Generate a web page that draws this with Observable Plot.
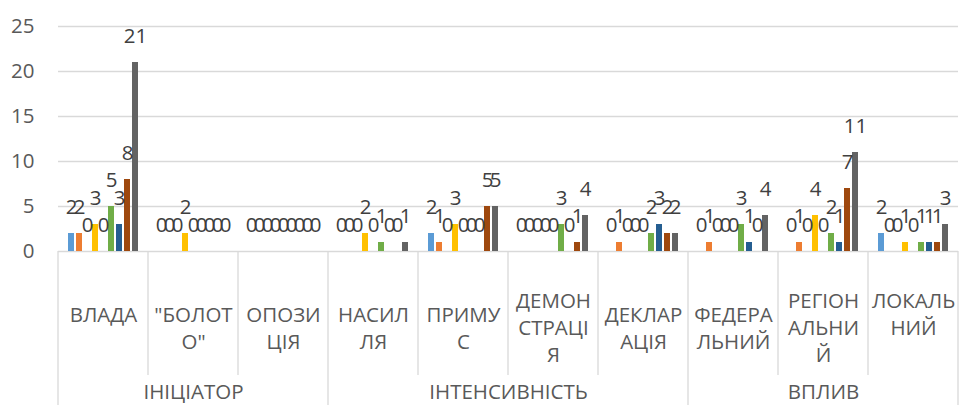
<!DOCTYPE html>
<html><head><meta charset="utf-8">
<script src="https://cdn.jsdelivr.net/npm/d3@7"></script>
<script src="https://cdn.jsdelivr.net/npm/@observablehq/plot@0.6"></script>
<style>body{margin:0;background:#fff;}</style>
</head><body><div id="chart"></div>
<script>
const categories = ["ВЛАДА", "\"БОЛОТО\"", "ОПОЗИЦІЯ", "НАСИЛЛЯ", "ПРИМУС", "ДЕМОНСТРАЦІЯ", "ДЕКЛАРАЦІЯ", "ФЕДЕРАЛЬНИЙ", "РЕГІОНАЛЬНИЙ", "ЛОКАЛЬНИЙ"];
const categoryLabels = ["ВЛАДА\n", "\"БОЛОТ\nО\"", "ОПОЗИ\nЦІЯ", "НАСИЛ\nЛЯ", "ПРИМУ\nС", "ДЕМОН\nСТРАЦІ\nЯ", "ДЕКЛАР\nАЦІЯ", "ФЕДЕРА\nЛЬНИЙ", "РЕГІОН\nАЛЬНИ\nЙ", "ЛОКАЛЬ\nНИЙ\n"];
const groups = ["ІНІЦІАТОР", "ІНТЕНСИВНІСТЬ", "ВПЛИВ"];
const groupSizes = [3, 4, 3];
const seriesNames = ["Ряд 1", "Ряд 2", "Ряд 3", "Ряд 4", "Ряд 5", "Ряд 6", "Ряд 7", "Ряд 8", "Ряд 9"];
const seriesColors = ["#5B9BD5", "#ED7D31", "#A5A5A5", "#FFC000", "#4472C4", "#70AD47", "#255E91", "#9E480E", "#636363"];
const series1 = [2, 0, 0, 0, 2, 0, 0, 0, 0, 2];
const series2 = [2, 0, 0, 0, 1, 0, 1, 1, 1, 0];
const series3 = [0, 0, 0, 0, 0, 0, 0, 0, 0, 0];
const series4 = [3, 2, 0, 2, 3, 0, 0, 0, 4, 1];
const series5 = [0, 0, 0, 0, 0, 0, 0, 0, 0, 0];
const series6 = [5, 0, 0, 1, 0, 3, 2, 3, 2, 1];
const series7 = [3, 0, 0, 0, 0, 0, 3, 1, 1, 1];
const series8 = [8, 0, 0, 0, 5, 1, 2, 0, 7, 1];
const series9 = [21, 0, 0, 1, 5, 4, 2, 4, 11, 3];
const yTicks = [0, 5, 10, 15, 20, 25];

const allSeries = [series1, series2, series3, series4, series5, series6, series7, series8, series9];
const data = [];
categories.forEach((c, ci) => allSeries.forEach((s, si) => data.push({category: c, series: seriesNames[si], value: s[ci]})));

const groupOdd = [], groupEven = [];
let start = 0;
groups.forEach((g, gi) => {
  const n = groupSizes[gi];
  if (n % 2) groupOdd.push({category: categories[start + (n - 1) / 2], text: g});
  else groupEven.push({category: categories[start + n / 2 - 1], text: g});
  start += n;
});

const W = 959, H = 405, mL = 58, mR = 1, mT = 26, mB = 154;
const font = "'Open Sans', sans-serif";
const grid = "#d9d9d9";
const fs = 20.5;

const plot = Plot.plot({
  width: W, height: H,
  marginTop: mT, marginBottom: mB, marginLeft: mL, marginRight: mR,
  style: {fontFamily: font, fontSize: fs + "px", color: "#595959", background: "#fff"},
  fx: {domain: categories, padding: 0, axis: null},
  x: {domain: seriesNames, paddingInner: 0.22, paddingOuter: 0.88, axis: null},
  y: {domain: [0, 25], ticks: yTicks, tickSize: 0, tickPadding: 24, label: null},
  color: {domain: seriesNames, range: seriesColors},
  marks: [
    Plot.ruleY(yTicks, {stroke: grid, strokeWidth: 1.3}),
    Plot.barY(data, {fx: "category", x: "series", y: "value", fill: "series"}),
    Plot.text(data, {fx: "category", x: "series", y: "value", text: d => String(d.value), dy: -26, fill: "#404040", fontSize: fs}),
    Plot.text(categories, {fx: d => d, text: (d, i) => categoryLabels[i], frameAnchor: "bottom", lineAnchor: "middle", dy: 75, lineHeight: 27 / fs, fill: "#595959", fontSize: fs}),
    Plot.text(groupOdd, {fx: "category", text: "text", frameAnchor: "bottom", lineAnchor: "middle", dy: 141, fill: "#595959", fontSize: fs}),
    Plot.text(groupEven, {fx: "category", text: "text", frameAnchor: "bottom-right", textAnchor: "middle", lineAnchor: "middle", dy: 141, fill: "#595959", fontSize: fs})
  ]
});

// table separators under the axis
const band = d3.scaleBand().domain(categories).range([mL, W - mR]).padding(0);
const bounds = new Set([0]);
let acc = 0; groupSizes.forEach(n => { acc += n; bounds.add(acc); });
const g = d3.select(plot).append("g").attr("stroke", grid).attr("stroke-width", 1.3);
for (let i = 0; i <= categories.length; i++) {
  const x = i < categories.length ? band(categories[i]) : band.range()[1];
  g.append("line").attr("x1", x).attr("x2", x).attr("y1", H - mB).attr("y2", bounds.has(i) ? H : H - mB + 124);
}
document.getElementById("chart").appendChild(plot);
</script>
</body></html>
